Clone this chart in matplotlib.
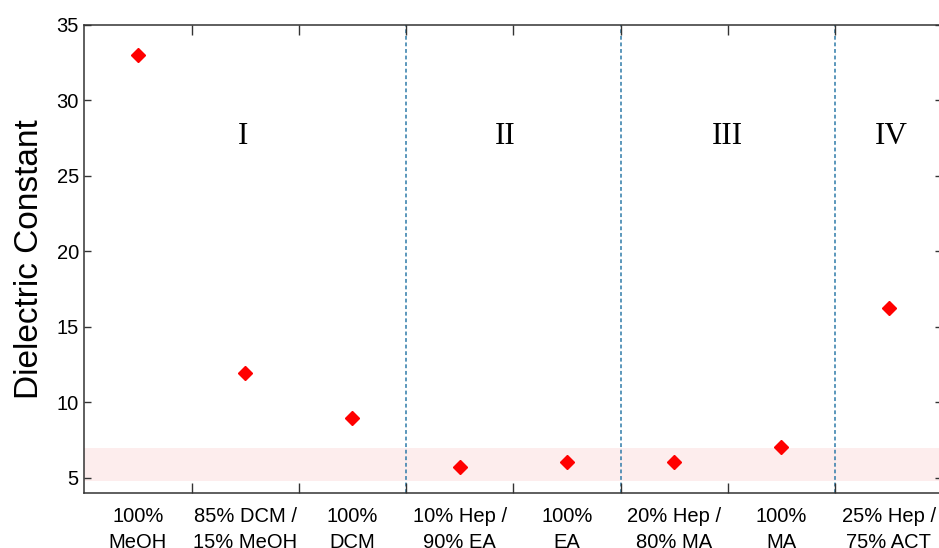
import matplotlib.pyplot as plt
import numpy as np

# solvent systems and their dielectric constants
solvents = ["100%\nMeOH", "85% DCM /\n15% MeOH", "100%\nDCM",
            "10% Hep /\n90% EA", "100%\nEA",
            "20% Hep /\n80% MA", "100%\nMA",
            "25% Hep /\n75% ACT"]
dielectric = [33.0, 11.97, 8.97, 5.69, 6.07, 6.06, 7.07, 16.26]

regions = ["I", "II", "III", "IV"]
region_x = [1.98, 4.42, 6.5, 8.02]
region_y = 27.6
dividers = [3.5, 5.5, 7.5]
band = (4.8, 7.0)

plt.rcParams['font.family'] = ['Liberation Sans', 'DejaVu Sans']

fig = plt.figure(figsize=(9.39, 5.48), dpi=100)
ax = fig.add_axes([0.0898, 0.1004, 0.9138, 0.854])

x = np.arange(1, len(solvents) + 1)

ax.axhspan(band[0], band[1], color="#fdeded", zorder=0, lw=0)
for d in dividers:
    ax.axvline(d, color="#2e7aa8", ls=(0, (2.5, 1.8)), lw=1.1, zorder=1)

ax.plot(x, dielectric, "D", color="red", ms=7.5, mec="red", zorder=3)

for r, rx in zip(regions, region_x):
    ax.text(rx, region_y, r, ha="center", va="center", fontsize=22.5,
            family=["Liberation Serif"])

ax.set_xlim(0.5, 8.5)
ax.set_ylim(4, 35)
ax.set_yticks([5, 10, 15, 20, 25, 30, 35])

# tick marks between categories, labels under the categories
ax.set_xticks(np.arange(1.5, 8, 1))
ax.set_xticklabels([])
ax.set_xticks(x, minor=True)
ax.set_xticklabels(solvents, minor=True, fontsize=14.5, linespacing=1.45)
ax.tick_params(axis="x", which="major", direction="in", length=7.2,
               top=True, width=1, color="#333333")
ax.tick_params(axis="x", which="minor", length=0, pad=10)
ax.tick_params(axis="y", direction="in", length=5, right=True, width=1,
               color="#333333", labelsize=14.5, pad=4)

for s in ax.spines.values():
    s.set_color("#333333")
    s.set_linewidth(1.1)

ax.set_ylabel("Dielectric Constant", fontsize=24, labelpad=8)

fig.savefig("out.png", dpi=100)
